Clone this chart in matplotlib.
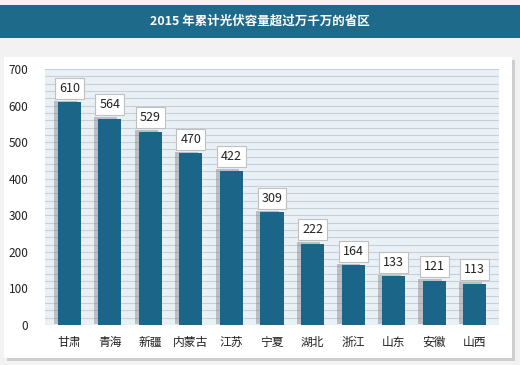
import numpy as np
import matplotlib.pyplot as plt
import matplotlib.patheffects as pe
from matplotlib.patches import Rectangle

plt.rcParams['font.family'] = ['Noto Sans CJK SC', 'DejaVu Sans']

provinces = ['甘肃', '青海', '新疆', '内蒙古', '江苏', '宁夏', '湖北', '浙江', '山东', '安徽', '山西']
capacity = [610, 564, 529, 470, 422, 309, 222, 164, 133, 121, 113]
title = '2015 年累计光伏容量超过万千万的省区'

bar_color = '#1b6688'
fig = plt.figure(figsize=(5.2, 3.65), dpi=100)
fig.patch.set_facecolor('#f2f2f2')

# title band
fig.patches.append(Rectangle((0, 1 - 38 / 365), 1, 33 / 365, transform=fig.transFigure,
                             facecolor='#1d6a8a', edgecolor='none', zorder=-2))
fig.text(0.5, 1 - 21 / 365, title, color='white', fontsize=9, fontweight='bold',
         ha='center', va='center')

# white panel with a soft shadow
panel = Rectangle((4 / 520, 1 - 358 / 365), 508 / 520, 301 / 365, transform=fig.transFigure,
                  facecolor='white', edgecolor='none', zorder=-2)
panel.set_path_effects([pe.SimplePatchShadow(offset=(2, -2), shadow_rgbFace='#999999', alpha=0.4),
                        pe.Normal()])
fig.patches.append(panel)

ax = fig.add_axes([45 / 520, 1 - 325 / 365, 454 / 520, 256 / 365])
ax.set_zorder(2)
ax.set_facecolor('#e9f0f6')
x = np.arange(len(provinces))
bars = ax.bar(x, capacity, width=0.57, color=bar_color, zorder=3)
for b in bars:
    b.set_path_effects([pe.SimplePatchShadow(offset=(-3, 1), shadow_rgbFace='#777777', alpha=0.4),
                        pe.Normal()])

for xi, v in zip(x, capacity):
    ax.text(xi, v + 20, str(v), ha='center', va='bottom', fontsize=9, color='#222222',
            zorder=5, bbox=dict(boxstyle='square,pad=0.32', facecolor='white',
                                edgecolor='#c0c0c0', linewidth=0.8))

ax.set_ylim(0, 700)
ax.set_xlim(-0.6, len(provinces) - 0.4)
ax.set_yticks(range(0, 701, 100))
ax.set_yticks(range(0, 701, 20), minor=True)
ax.grid(axis='y', which='both', color='#c8cfd6', linewidth=0.8, zorder=0)
ax.set_axisbelow(True)
ax.set_xticks(x)
ax.set_xticklabels(provinces, fontsize=8.5, color='#222222')
ax.tick_params(axis='y', which='both', length=0, labelsize=8.5, colors='#222222', pad=12)
ax.tick_params(axis='x', length=0, pad=8)
for s in ax.spines.values():
    s.set_visible(False)

fig.savefig('out.png', dpi=100, facecolor=fig.get_facecolor())
